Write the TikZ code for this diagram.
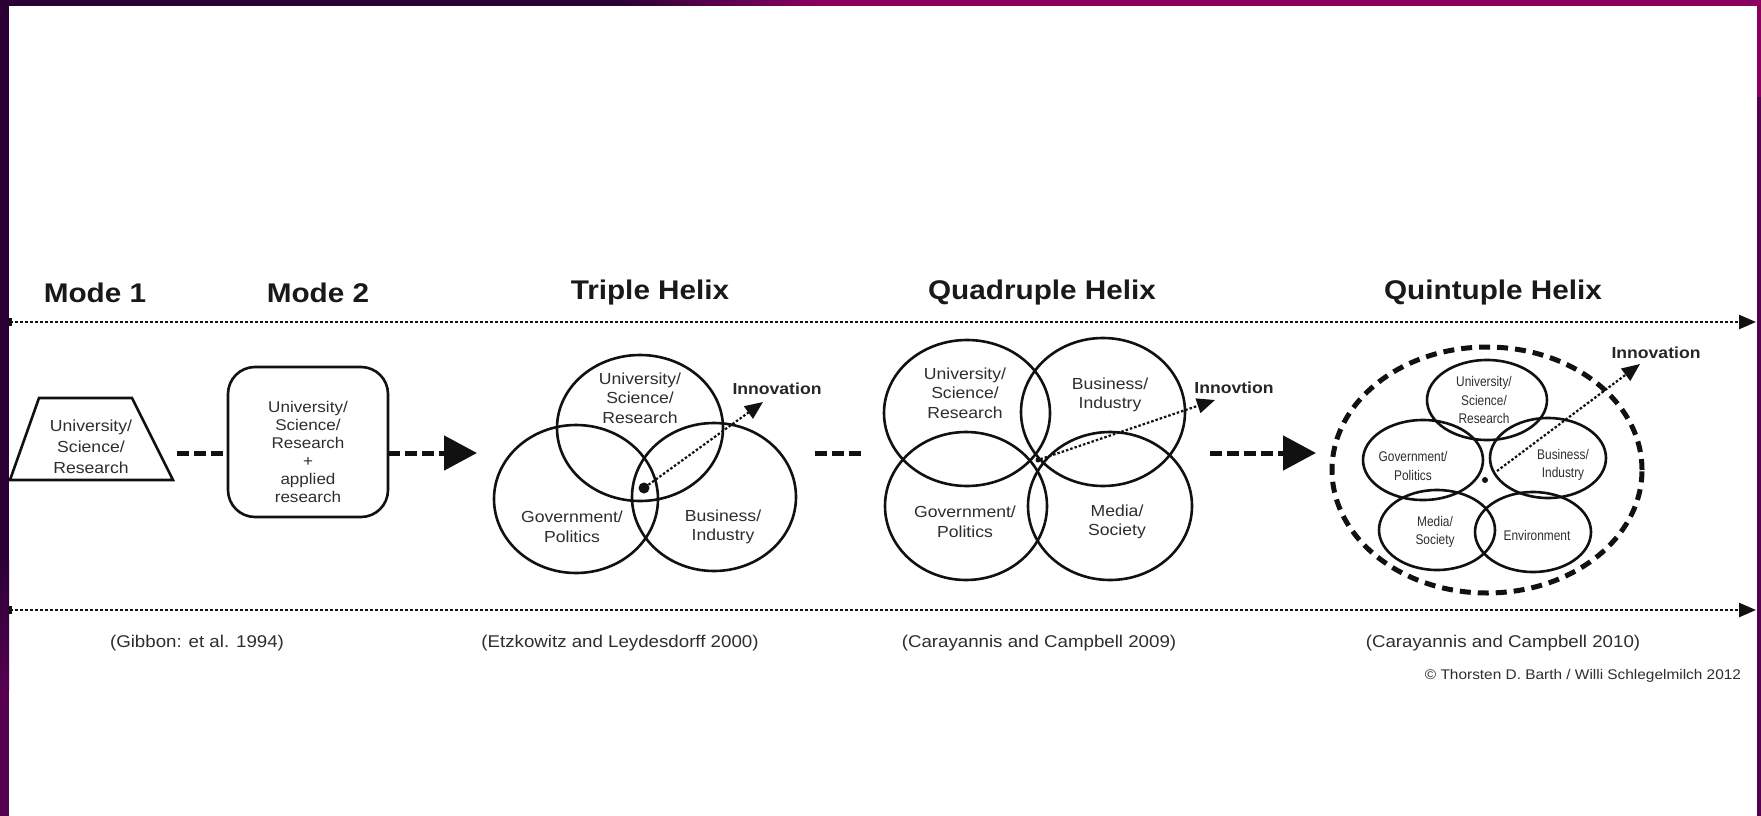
\documentclass[tikz,border=0pt]{standalone}
\usepackage{fontspec}
\setmainfont{Liberation Sans}[FakeStretch=1.1]
\newfontfamily\condfont{Liberation Sans}[FakeStretch=0.85]
\usetikzlibrary{arrows.meta,shapes.geometric}
\definecolor{ink}{HTML}{111111}
\definecolor{txt}{HTML}{2E2E2E}
\definecolor{bdark}{HTML}{2A0035}
\definecolor{bmid}{HTML}{560050}
\definecolor{bmag}{HTML}{8C0062}
\begin{document}
\begin{tikzpicture}[x=1pt,y=-1pt,
  every node/.style={inner sep=0pt,outer sep=0pt},
  title/.style={font=\bfseries\fontsize{27}{32}\selectfont,text=black!90},
  body/.style={font=\fontsize{16}{19.5}\selectfont,text=txt,align=center},
  small/.style={font=\condfont\fontsize{14}{18.5}\selectfont,text=txt,align=center},
  cite/.style={font=\fontsize{17}{20}\selectfont,text=txt},
  innov/.style={font=\bfseries\fontsize{16}{19}\selectfont,text=black!85},
  ring/.style n args={2}{draw=ink,line width=2.6pt,shape=ellipse,minimum width=#1,minimum height=#2},
  bigdash/.style={draw=ink,line width=5pt,dash pattern=on 12pt off 5pt},
  bigarrow/.style={bigdash,-{Triangle[length=33pt,width=34pt]}},
  timeline/.style={draw=ink,line width=2.5pt,dash pattern=on 3pt off 2pt,-{Triangle[length=17pt,width=14pt]}},
  innoarrow/.style={draw=ink,line width=2.2pt,dash pattern=on 2.5pt off 2pt,-{Triangle[length=18pt,width=15pt]}},
  dotnode/.style={circle,fill=ink,minimum size=#1},
]
\useasboundingbox (0,0) rectangle (1761,816);
\fill[white] (0,0) rectangle (1761,816);
% frame
\fill[bdark] (0,0) rectangle (620,6);
\shade[left color=bdark,right color=bmag] (620,0) rectangle (820,6);
\fill[bmag] (820,0) rectangle (1761,6);
\fill[bdark] (0,0) rectangle (9,560);
\shade[top color=bdark,bottom color=bmid] (0,560) rectangle (9,690);
\fill[bmid] (0,690) rectangle (9,816);
\fill[bmag] (1757,0) rectangle (1761,97);
\fill[bmid] (1757,97) rectangle (1761,816);

% timelines
\coordinate (tl0) at (10,322);
\coordinate (tl1) at (1756,322);
\coordinate (bl0) at (10,610);
\coordinate (bl1) at (1756,610);
\draw[timeline] (tl0) -- (tl1);
\draw[timeline] (bl0) -- (bl1);
\draw[ink,line width=3pt] ([yshift=-4pt]tl0) -- ([yshift=4pt]tl0);
\draw[ink,line width=3pt] ([yshift=-4pt]bl0) -- ([yshift=4pt]bl0);

% titles
\node[title] (t1) at (95,293) {Mode 1};
\node[title] (t2) at (318,293) {Mode 2};
\node[title] (t3) at (650,293) {Triple Helix};
\node[title] (t4) at (1042,293) {Quadruple Helix};
\node[title] (t5) at (1493,293) {Quintuple Helix};

% Mode 1
\draw[ink,line width=2.6pt,line join=miter] (39,398) -- (132,398) -- (173,480) -- (10,480) -- cycle;
\node[body,font=\fontsize{16}{21}\selectfont] (m1) at (91,447) {University/\\Science/\\Research};

% Mode 2
\node[draw=ink,line width=2.6pt,rounded corners=27pt,minimum width=160pt,minimum height=150pt] (m2) at (308,442) {};
\node[body,font=\fontsize{15.5}{18}\selectfont] (m2t) at (308,452) {University/\\Science/\\Research\\+\\applied\\research};

\coordinate (a1) at (177,453);
\draw[bigdash] (a1) -- (a1 -| m2.west);
\coordinate (a2) at (477,453);
\draw[bigarrow] (a1 -| m2.east) -- (a2);

% Triple helix
\node[ring={166pt}{146pt}] (TU) at (640,428) {};
\node[ring={164pt}{148pt}] (TG) at (576,499) {};
\node[ring={164pt}{148pt}] (TB) at (714,497) {};
\node[body] at (640,398) {University/\\Science/\\Research};
\node[body] at (572,527) {Government/\\Politics};
\node[body] at (723,527) {Business/\\Industry};
\node[dotnode=11pt] (td) at (644,488) {};
\coordinate (ti) at (763,402);
\draw[innoarrow] (td) -- (ti);
\node[innov] (tin) at (777,389) {Innovation};

\coordinate (d1) at (815,453);
\coordinate (d2) at (865,453);
\draw[bigdash] (d1) -- (d2);

% Quadruple helix
\node[ring={166pt}{146pt}] (QU) at (967,413) {};
\node[ring={164pt}{148pt}] (QB) at (1103,412) {};
\node[ring={162pt}{148pt}] (QG) at (966,506) {};
\node[ring={164pt}{148pt}] (QM) at (1110,506) {};
\node[body] at (965,393) {University/\\Science/\\Research};
\node[body] at (1110,395) {Business/\\Industry};
\node[body] at (965,522) {Government/\\Politics};
\node[body] at (1117,522) {Media/\\Society};
\node[dotnode=5pt] (qd) at (1038,460) {};
\coordinate (qi) at (1215,400);
\draw[innoarrow] (qd) -- (qi);
\node[innov] (qin) at (1234,388) {Innovtion};

\coordinate (d3) at (1210,453);
\coordinate (d4) at (1316,453);
\draw[bigarrow] (d3) -- (d4);

% Quintuple helix
\node[draw=ink,line width=5pt,dash pattern=on 11pt off 7pt,shape=ellipse,minimum width=310pt,minimum height=246pt] (P) at (1487,470) {};
\node[ring={120pt}{80pt}] (PU) at (1487,400) {};
\node[ring={120pt}{80pt}] (PG) at (1423,460) {};
\node[ring={116pt}{80pt}] (PB) at (1548,458) {};
\node[ring={116pt}{80pt}] (PM) at (1437,530) {};
\node[ring={116pt}{80pt}] (PE) at (1533,532) {};
\node[small] at (1484,400) {University/\\Science/\\Research};
\node[small] at (1413,466) {Government/\\Politics};
\node[small] at (1563,465) {Business/\\Industry};
\node[small] at (1435,532) {Media/\\Society};
\node[small] at (1537,535) {Environment};
\node[dotnode=6pt] (pd) at (1485,480) {};
\coordinate (pi) at (1640,364);
\draw[innoarrow,shorten <=12pt] (pd) -- (pi);
\node[innov] (pin) at (1656,353) {Innovation};

% citations
\node[cite] (c1) at (197,643) {(Gibbon: et al. 1994)};
\node[cite] (c2) at (620,643) {(Etzkowitz and Leydesdorff 2000)};
\node[cite] (c3) at (1039,643) {(Carayannis and Campbell 2009)};
\node[cite] (c4) at (1503,643) {(Carayannis and Campbell 2010)};
\node[cite,font=\fontsize{14}{17}\selectfont,anchor=east] (cr) at (1741,676) {© Thorsten D. Barth / Willi Schlegelmilch 2012};
\end{tikzpicture}
\end{document}
